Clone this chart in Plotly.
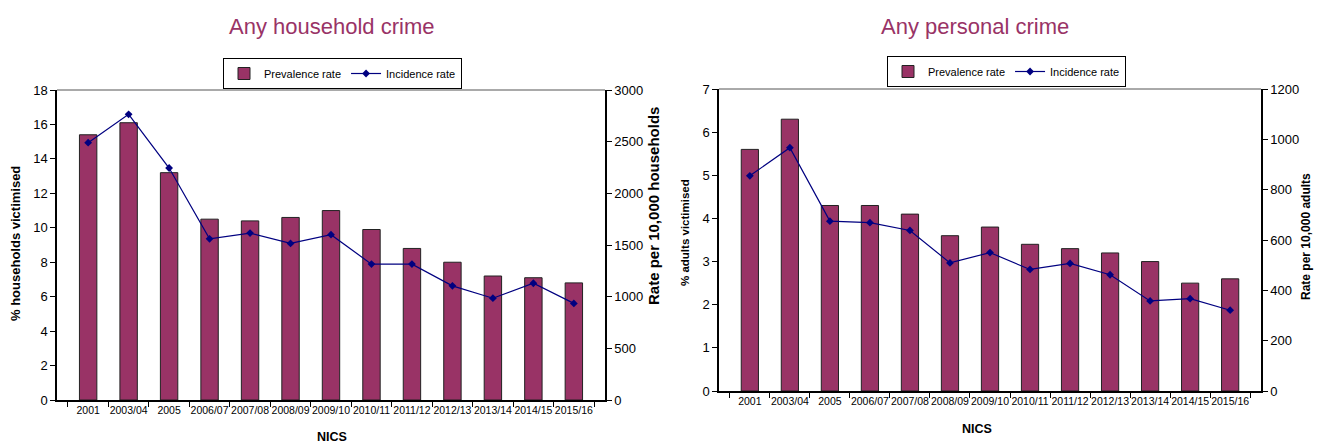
import plotly.graph_objects as go

# NICS survey years
years = ["2001", "2003/04", "2005", "2006/07", "2007/08", "2008/09", "2009/10",
         "2010/11", "2011/12", "2012/13", "2013/14", "2014/15", "2015/16"]

# Any household crime
hh_prevalence = [15.4, 16.1, 13.2, 10.5, 10.4, 10.6, 11.0, 9.9, 8.8, 8.0, 7.2, 7.1, 6.8]
hh_incidence = [2490, 2765, 2245, 1560, 1615, 1515, 1600, 1315, 1315, 1105, 985, 1130, 935]

# Any personal crime
pc_prevalence = [5.6, 6.3, 4.3, 4.3, 4.1, 3.6, 3.8, 3.4, 3.3, 3.2, 3.0, 2.5, 2.6]
pc_incidence = [855, 967, 675, 669, 638, 509, 550, 483, 507, 462, 358, 367, 321]

W, H = 1324, 445
BAR = "#993366"
LINE = "#000080"
FONT = "Liberation Sans, Arial, sans-serif"


def px(x):
    return x / W


def py(y):
    return (H - y) / H


fig = go.Figure()

# household panel
fig.add_trace(go.Bar(x=years, y=hh_prevalence, name="Prevalence rate",
                     marker=dict(color=BAR, line=dict(color="#222222", width=1)),
                     xaxis="x", yaxis="y", legend="legend"))
fig.add_trace(go.Scatter(x=years, y=hh_incidence, name="Incidence rate", mode="lines+markers",
                         line=dict(color=LINE, width=1.2),
                         marker=dict(symbol="diamond", size=6, color=LINE),
                         xaxis="x", yaxis="y2", legend="legend"))

# personal panel
fig.add_trace(go.Bar(x=years, y=pc_prevalence, name="Prevalence rate",
                     marker=dict(color=BAR, line=dict(color="#222222", width=1)),
                     xaxis="x2", yaxis="y3", legend="legend2"))
fig.add_trace(go.Scatter(x=years, y=pc_incidence, name="Incidence rate", mode="lines+markers",
                         line=dict(color=LINE, width=1.2),
                         marker=dict(symbol="diamond", size=6, color=LINE),
                         xaxis="x2", yaxis="y4", legend="legend2"))

xcommon = dict(type="category", showline=True, linecolor="black", linewidth=1.5,
               mirror=False, ticks="outside", ticklen=5, tickcolor="black",
               tickson="boundaries", showgrid=False, tickangle=0, automargin=False,
               tickfont=dict(size=10.5, color="black"))
ycommon = dict(showline=True, linecolor="black", linewidth=1.5, ticks="outside",
               ticklen=5, tickcolor="black", showgrid=False, zeroline=False, automargin=False,
               tickfont=dict(size=13, color="black"))

fig.update_layout(
    width=W, height=H,
    margin=dict(l=0, r=0, t=0, b=0, autoexpand=False),
    paper_bgcolor="white", plot_bgcolor="white",
    font=dict(family=FONT, color="black"),
    bargap=0.57,
    xaxis=dict(xcommon, domain=[px(57), px(605)], anchor="y"),
    yaxis=dict(ycommon, domain=[py(400), py(90)], range=[0, 18], dtick=2, anchor="x"),
    yaxis2=dict(ycommon, overlaying="y", side="right", anchor="x", range=[0, 3000], dtick=500),
    xaxis2=dict(xcommon, domain=[px(719), px(1261)], anchor="y3"),
    yaxis3=dict(ycommon, domain=[py(391), py(89)], range=[0, 7], dtick=1, anchor="x2"),
    yaxis4=dict(ycommon, overlaying="y3", side="right", anchor="x2", range=[0, 1200], dtick=200),
    legend=dict(orientation="h", x=px(223), y=py(58), xanchor="left", yanchor="top",
                bordercolor="black", borderwidth=1, font=dict(size=11),
                itemwidth=30, tracegroupgap=0),
    legend2=dict(orientation="h", x=px(887), y=py(56), xanchor="left", yanchor="top",
                 bordercolor="black", borderwidth=1, font=dict(size=11),
                 itemwidth=30, tracegroupgap=0),
    shapes=[
        # top border of each plot area
        dict(type="line", xref="x domain", yref="y domain", x0=0, x1=1, y0=1, y1=1,
             line=dict(color="#555555", width=1)),
        dict(type="line", xref="x2 domain", yref="y3 domain", x0=0, x1=1, y0=1, y1=1,
             line=dict(color="#555555", width=1)),
    ],
)

# panel titles and axis titles, placed as paper-anchored text
labels = [
    # text, x, y, size, angle, color
    ("Any household crime", 331, 26, 22, 0, BAR),
    ("Any personal crime", 975, 26, 22, 0, BAR),
    ("<b>% households victimised</b>", 16, 244, 13, -90, "black"),
    ("<b>Rate per 10,000 households</b>", 653, 206, 15, -90, "black"),
    ("<b>NICS</b>", 332, 437, 12.5, 0, "black"),
    ("<b>% adults victimised</b>", 685, 233, 11.5, -90, "black"),
    ("<b>Rate per 10,000 adults</b>", 1306, 237, 12, -90, "black"),
    ("<b>NICS</b>", 977, 429, 12.5, 0, "black"),
]
for text, x, y, size, angle, color in labels:
    fig.add_annotation(text=text, x=px(x), y=py(y), xref="paper", yref="paper",
                       xanchor="center", yanchor="middle", showarrow=False,
                       textangle=angle, font=dict(size=size, color=color))

fig.write_html("out.html")
